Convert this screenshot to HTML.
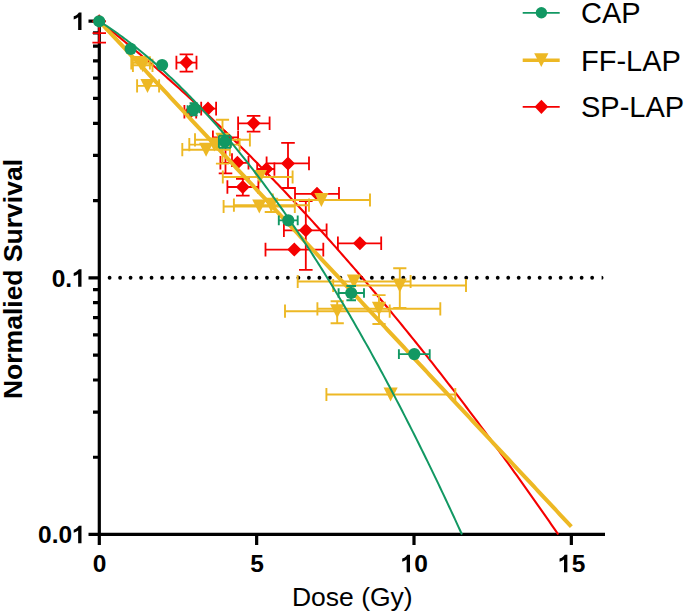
<!DOCTYPE html>
<html><head><meta charset="utf-8"><style>html,body{margin:0;padding:0;background:#fff;}svg{display:block;}</style></head>
<body>
<svg width="685" height="614" viewBox="0 0 685 614">
<rect width="685" height="614" fill="#fff"/>
<path d="M99.3 19.599999999999998 V545 M88.5 534.4 H605 M88.5 21.20 H99.3 M88.5 277.85 H99.3 M93 200.59 H99.3 M93 155.40 H99.3 M93 123.33 H99.3 M93 98.46 H99.3 M93 78.14 H99.3 M93 60.96 H99.3 M93 46.07 H99.3 M93 32.94 H99.3 M93 457.24 H99.3 M93 412.05 H99.3 M93 379.98 H99.3 M93 355.11 H99.3 M93 334.79 H99.3 M93 317.61 H99.3 M93 302.72 H99.3 M93 289.59 H99.3 M256.65 534.4 V545 M414.00 534.4 V545 M571.35 534.4 V545" fill="none" stroke="#000" stroke-width="3.2"/>
<g fill="#000"><circle cx="109.60" cy="277.75" r="1.9"/><circle cx="120.09" cy="277.75" r="1.9"/><circle cx="130.58" cy="277.75" r="1.9"/><circle cx="141.07" cy="277.75" r="1.9"/><circle cx="151.56" cy="277.75" r="1.9"/><circle cx="162.05" cy="277.75" r="1.9"/><circle cx="172.54" cy="277.75" r="1.9"/><circle cx="183.03" cy="277.75" r="1.9"/><circle cx="193.52" cy="277.75" r="1.9"/><circle cx="204.01" cy="277.75" r="1.9"/><circle cx="214.50" cy="277.75" r="1.9"/><circle cx="224.99" cy="277.75" r="1.9"/><circle cx="235.48" cy="277.75" r="1.9"/><circle cx="245.97" cy="277.75" r="1.9"/><circle cx="256.46" cy="277.75" r="1.9"/><circle cx="266.95" cy="277.75" r="1.9"/><circle cx="277.44" cy="277.75" r="1.9"/><circle cx="287.93" cy="277.75" r="1.9"/><circle cx="298.42" cy="277.75" r="1.9"/><circle cx="308.91" cy="277.75" r="1.9"/><circle cx="319.40" cy="277.75" r="1.9"/><circle cx="329.89" cy="277.75" r="1.9"/><circle cx="340.38" cy="277.75" r="1.9"/><circle cx="350.87" cy="277.75" r="1.9"/><circle cx="361.36" cy="277.75" r="1.9"/><circle cx="371.85" cy="277.75" r="1.9"/><circle cx="382.34" cy="277.75" r="1.9"/><circle cx="392.83" cy="277.75" r="1.9"/><circle cx="403.32" cy="277.75" r="1.9"/><circle cx="413.81" cy="277.75" r="1.9"/><circle cx="424.30" cy="277.75" r="1.9"/><circle cx="434.79" cy="277.75" r="1.9"/><circle cx="445.28" cy="277.75" r="1.9"/><circle cx="455.77" cy="277.75" r="1.9"/><circle cx="466.26" cy="277.75" r="1.9"/><circle cx="476.75" cy="277.75" r="1.9"/><circle cx="487.24" cy="277.75" r="1.9"/><circle cx="497.73" cy="277.75" r="1.9"/><circle cx="508.22" cy="277.75" r="1.9"/><circle cx="518.71" cy="277.75" r="1.9"/><circle cx="529.20" cy="277.75" r="1.9"/><circle cx="539.69" cy="277.75" r="1.9"/><circle cx="550.18" cy="277.75" r="1.9"/><circle cx="560.67" cy="277.75" r="1.9"/><circle cx="571.16" cy="277.75" r="1.9"/><circle cx="581.65" cy="277.75" r="1.9"/><circle cx="592.14" cy="277.75" r="1.9"/><path d="M601.6 275.85 A1.9 1.9 0 0 1 603.5 277.75 L603.5 277.75 A1.9 1.9 0 0 1 601.6 279.65 Z"/></g>
<path d="M99.2 21.3 V42.7 M92.4 21.3 H106.0 M92.4 42.7 H106.0 M176.4 62.6 H196.5 M176.4 55.8 V69.4 M196.5 55.8 V69.4 M186.4 54.3 V71.7 M179.6 54.3 H193.2 M179.6 71.7 H193.2 M184.4 111.8 H196.2 M184.4 105.0 V118.6 M196.2 105.0 V118.6 M201.2 108.6 H216.1 M201.2 101.8 V115.4 M216.1 101.8 V115.4 M238.1 123.3 H269.6 M238.1 116.5 V130.1 M269.6 116.5 V130.1 M253.6 115.9 V131.6 M246.8 115.9 H260.4 M246.8 131.6 H260.4 M220.4 162.8 H248.5 M220.4 156.0 V169.6 M248.5 156.0 V169.6 M212.9 137.3 H238.1 M212.9 130.5 V144.1 M238.1 130.5 V144.1 M225.5 137.3 V173.4 M218.7 137.3 H232.3 M218.7 173.4 H232.3 M257.2 169.0 H274.4 M257.2 162.2 V175.8 M274.4 162.2 V175.8 M227.4 187.0 H258.4 M227.4 180.2 V193.8 M258.4 180.2 V193.8 M242.8 178.9 V195.7 M236.0 178.9 H249.6 M236.0 195.7 H249.6 M266.6 163.4 H309.0 M266.6 156.6 V170.2 M309.0 156.6 V170.2 M288.0 142.9 V188.0 M281.2 142.9 H294.8 M281.2 188.0 H294.8 M295.0 193.8 H339.0 M295.0 187.0 V200.6 M339.0 187.0 V200.6 M283.9 230.3 H326.6 M283.9 223.5 V237.1 M326.6 223.5 V237.1 M305.8 201.2 V269.8 M299.0 201.2 H312.6 M299.0 269.8 H312.6 M265.5 249.6 H323.3 M265.5 242.8 V256.4 M323.3 242.8 V256.4 M337.9 243.3 H381.2 M337.9 236.5 V250.1 M381.2 236.5 V250.1 M92.5 33.2 H106 M232 153.2 V167.1" fill="none" stroke="#F50000" stroke-width="1.8"/>
<path d="M99.2 14.3 L106.2 21.3 L99.2 28.3 L92.2 21.3Z M186.4 55.6 L193.4 62.6 L186.4 69.6 L179.4 62.6Z M190.3 104.8 L197.3 111.8 L190.3 118.8 L183.3 111.8Z M208.0 101.6 L215.0 108.6 L208.0 115.6 L201.0 108.6Z M253.6 116.3 L260.6 123.3 L253.6 130.3 L246.6 123.3Z M237.4 155.8 L244.4 162.8 L237.4 169.8 L230.4 162.8Z M225.5 130.3 L232.5 137.3 L225.5 144.3 L218.5 137.3Z M266.4 162.0 L273.4 169.0 L266.4 176.0 L259.4 169.0Z M242.8 180.0 L249.8 187.0 L242.8 194.0 L235.8 187.0Z M288.0 156.4 L295.0 163.4 L288.0 170.4 L281.0 163.4Z M317.0 186.8 L324.0 193.8 L317.0 200.8 L310.0 193.8Z M305.8 223.3 L312.8 230.3 L305.8 237.3 L298.8 230.3Z M294.3 242.6 L301.3 249.6 L294.3 256.6 L287.3 249.6Z M359.9 236.3 L366.9 243.3 L359.9 250.3 L352.9 243.3Z " fill="#F50000"/>
<path d="M99.30 21.20 L101.59 23.00 L103.89 24.81 L106.18 26.63 L108.48 28.45 L110.77 30.29 L113.07 32.13 L115.36 33.98 L117.66 35.83 L119.95 37.69 L122.25 39.57 L124.54 41.44 L126.84 43.33 L129.13 45.23 L131.43 47.13 L133.72 49.04 L136.02 50.95 L138.31 52.88 L140.61 54.81 L142.90 56.75 L145.20 58.70 L147.49 60.66 L149.79 62.62 L152.08 64.59 L154.38 66.57 L156.67 68.55 L158.97 70.55 L161.26 72.55 L163.56 74.56 L165.85 76.58 L168.14 78.60 L170.44 80.63 L172.73 82.67 L175.03 84.72 L177.32 86.78 L179.62 88.84 L181.91 90.91 L184.21 92.99 L186.50 95.08 L188.80 97.17 L191.09 99.27 L193.39 101.38 L195.68 103.50 L197.98 105.62 L200.27 107.76 L202.57 109.90 L204.86 112.04 L207.16 114.20 L209.45 116.36 L211.75 118.53 L214.04 120.71 L216.34 122.90 L218.63 125.09 L220.93 127.29 L223.22 129.50 L225.52 131.72 L227.81 133.94 L230.11 136.18 L232.40 138.42 L234.69 140.66 L236.99 142.92 L239.28 145.18 L241.58 147.45 L243.87 149.73 L246.17 152.02 L248.46 154.31 L250.76 156.61 L253.05 158.92 L255.35 161.24 L257.64 163.56 L259.94 165.90 L262.23 168.24 L264.53 170.58 L266.82 172.94 L269.12 175.30 L271.41 177.67 L273.71 180.05 L276.00 182.44 L278.30 184.83 L280.59 187.23 L282.89 189.64 L285.18 192.06 L287.48 194.48 L289.77 196.91 L292.07 199.35 L294.36 201.80 L296.66 204.25 L298.95 206.72 L301.24 209.19 L303.54 211.67 L305.83 214.15 L308.13 216.65 L310.42 219.15 L312.72 221.66 L315.01 224.17 L317.31 226.70 L319.60 229.23 L321.90 231.77 L324.19 234.32 L326.49 236.87 L328.78 239.43 L331.08 242.00 L333.37 244.58 L335.67 247.17 L337.96 249.76 L340.26 252.36 L342.55 254.97 L344.85 257.59 L347.14 260.21 L349.44 262.84 L351.73 265.48 L354.03 268.13 L356.32 270.78 L358.62 273.45 L360.91 276.12 L363.21 278.79 L365.50 281.48 L367.79 284.17 L370.09 286.87 L372.38 289.58 L374.68 292.30 L376.97 295.02 L379.27 297.76 L381.56 300.49 L383.86 303.24 L386.15 306.00 L388.45 308.76 L390.74 311.53 L393.04 314.31 L395.33 317.09 L397.63 319.89 L399.92 322.69 L402.22 325.49 L404.51 328.31 L406.81 331.13 L409.10 333.97 L411.40 336.81 L413.69 339.65 L415.99 342.51 L418.28 345.37 L420.58 348.24 L422.87 351.12 L425.17 354.00 L427.46 356.90 L429.75 359.80 L432.05 362.70 L434.34 365.62 L436.64 368.54 L438.93 371.48 L441.23 374.42 L443.52 377.36 L445.82 380.32 L448.11 383.28 L450.41 386.25 L452.70 389.23 L455.00 392.21 L457.29 395.20 L459.59 398.21 L461.88 401.21 L464.18 404.23 L466.47 407.25 L468.77 410.28 L471.06 413.32 L473.36 416.37 L475.65 419.42 L477.95 422.49 L480.24 425.56 L482.54 428.63 L484.83 431.72 L487.13 434.81 L489.42 437.91 L491.72 441.02 L494.01 444.14 L496.30 447.26 L498.60 450.39 L500.89 453.53 L503.19 456.68 L505.48 459.83 L507.78 462.99 L510.07 466.16 L512.37 469.34 L514.66 472.52 L516.96 475.72 L519.25 478.92 L521.55 482.13 L523.84 485.34 L526.14 488.57 L528.43 491.80 L530.73 495.04 L533.02 498.28 L535.32 501.54 L537.61 504.80 L539.91 508.07 L542.20 511.34 L544.50 514.63 L546.79 517.92 L549.09 521.22 L551.38 524.53 L553.68 527.85 L555.97 531.17 L558.27 534.50" fill="none" stroke="#F50000" stroke-width="2.1"/>
<path d="M137.1 85.9 H159.1 M137.1 79.3 V92.5 M159.1 79.3 V92.5 M131.3 62.9 H149.9 M131.3 56.3 V69.5 M149.9 56.3 V69.5 M132.9 65.3 H152.5 M132.9 58.7 V71.9 M152.5 58.7 V71.9 M182.3 149.7 H229.9 M182.3 143.1 V156.3 M229.9 143.1 V156.3 M189.3 144.6 H239.6 M189.3 138.0 V151.2 M239.6 138.0 V151.2 M195.0 139.8 H249.9 M195.0 133.2 V146.4 M249.9 133.2 V146.4 M222.5 119.8 V163.6 M215.9 119.8 H229.1 M215.9 163.6 H229.1 M222.8 177.0 H292.6 M222.8 170.4 V183.6 M292.6 170.4 V183.6 M272.8 200.0 H370.0 M272.8 193.4 V206.6 M370.0 193.4 V206.6 M223.6 206.5 H294.8 M223.6 199.9 V213.1 M294.8 199.9 V213.1 M233.9 205.2 H309.0 M233.9 198.6 V211.8 M309.0 198.6 V211.8 M271.3 198.6 V212.0 M264.7 198.6 H277.9 M264.7 212.0 H277.9 M297.7 281.5 H410.6 M297.7 274.9 V288.1 M410.6 274.9 V288.1 M333.2 285.5 H466.0 M333.2 278.9 V292.1 M466.0 278.9 V292.1 M399.8 268.2 V308.0 M393.2 268.2 H406.4 M393.2 308.0 H406.4 M317.4 308.8 H440.3 M317.4 302.2 V315.4 M440.3 302.2 V315.4 M379.0 295.1 V324.0 M372.4 295.1 H385.6 M372.4 324.0 H385.6 M285.0 311.2 H389.7 M285.0 304.6 V317.8 M389.7 304.6 V317.8 M337.2 301.2 V323.3 M330.6 301.2 H343.8 M330.6 323.3 H343.8 M326.4 394.5 H455.3 M326.4 387.9 V401.1 M455.3 387.9 V401.1 " fill="none" stroke="#EDB824" stroke-width="1.9"/>
<path d="M140.4 78.9 H154.6 L147.5 92.9Z M133.5 55.9 H147.7 L140.6 69.9Z M135.6 58.3 H149.8 L142.7 72.3Z M199.0 142.7 H213.2 L206.1 156.7Z M207.2 137.6 H221.4 L214.3 151.6Z M215.4 132.8 H229.6 L222.5 146.8Z M252.7 170.0 H266.9 L259.8 184.0Z M314.3 193.0 H328.5 L321.4 207.0Z M252.2 199.5 H266.4 L259.3 213.5Z M264.2 198.2 H278.4 L271.3 212.2Z M346.8 274.5 H361.0 L353.9 288.5Z M392.7 278.5 H406.9 L399.8 292.5Z M371.9 301.8 H386.1 L379.0 315.8Z M330.1 304.2 H344.3 L337.2 318.2Z M383.5 387.5 H397.7 L390.6 401.5Z " fill="#EDB824"/>
<path d="M99.30 21.20 L101.66 23.73 L104.02 26.25 L106.38 28.78 L108.74 31.31 L111.10 33.84 L113.46 36.36 L115.82 38.89 L118.18 41.42 L120.54 43.95 L122.90 46.47 L125.26 49.00 L127.62 51.53 L129.98 54.06 L132.34 56.58 L134.70 59.11 L137.06 61.64 L139.42 64.17 L141.78 66.69 L144.14 69.22 L146.50 71.75 L148.87 74.27 L151.23 76.80 L153.59 79.33 L155.95 81.86 L158.31 84.38 L160.67 86.91 L163.03 89.44 L165.39 91.97 L167.75 94.49 L170.11 97.02 L172.47 99.55 L174.83 102.08 L177.19 104.60 L179.55 107.13 L181.91 109.66 L184.27 112.18 L186.63 114.71 L188.99 117.24 L191.35 119.77 L193.71 122.29 L196.07 124.82 L198.43 127.35 L200.79 129.88 L203.15 132.40 L205.51 134.93 L207.87 137.46 L210.23 139.99 L212.59 142.51 L214.95 145.04 L217.31 147.57 L219.67 150.10 L222.03 152.62 L224.39 155.15 L226.75 157.68 L229.11 160.20 L231.47 162.73 L233.83 165.26 L236.19 167.79 L238.55 170.31 L240.92 172.84 L243.28 175.37 L245.64 177.90 L248.00 180.42 L250.36 182.95 L252.72 185.48 L255.08 188.01 L257.44 190.53 L259.80 193.06 L262.16 195.59 L264.52 198.12 L266.88 200.64 L269.24 203.17 L271.60 205.70 L273.96 208.22 L276.32 210.75 L278.68 213.28 L281.04 215.81 L283.40 218.33 L285.76 220.86 L288.12 223.39 L290.48 225.92 L292.84 228.44 L295.20 230.97 L297.56 233.50 L299.92 236.03 L302.28 238.55 L304.64 241.08 L307.00 243.61 L309.36 246.14 L311.72 248.66 L314.08 251.19 L316.44 253.72 L318.80 256.24 L321.16 258.77 L323.52 261.30 L325.88 263.83 L328.24 266.35 L330.60 268.88 L332.96 271.41 L335.32 273.94 L337.69 276.46 L340.05 278.99 L342.41 281.52 L344.77 284.05 L347.13 286.57 L349.49 289.10 L351.85 291.63 L354.21 294.15 L356.57 296.68 L358.93 299.21 L361.29 301.74 L363.65 304.26 L366.01 306.79 L368.37 309.32 L370.73 311.85 L373.09 314.37 L375.45 316.90 L377.81 319.43 L380.17 321.96 L382.53 324.48 L384.89 327.01 L387.25 329.54 L389.61 332.07 L391.97 334.59 L394.33 337.12 L396.69 339.65 L399.05 342.17 L401.41 344.70 L403.77 347.23 L406.13 349.76 L408.49 352.28 L410.85 354.81 L413.21 357.34 L415.57 359.87 L417.93 362.39 L420.29 364.92 L422.65 367.45 L425.01 369.98 L427.37 372.50 L429.74 375.03 L432.10 377.56 L434.46 380.09 L436.82 382.61 L439.18 385.14 L441.54 387.67 L443.90 390.19 L446.26 392.72 L448.62 395.25 L450.98 397.78 L453.34 400.30 L455.70 402.83 L458.06 405.36 L460.42 407.89 L462.78 410.41 L465.14 412.94 L467.50 415.47 L469.86 418.00 L472.22 420.52 L474.58 423.05 L476.94 425.58 L479.30 428.11 L481.66 430.63 L484.02 433.16 L486.38 435.69 L488.74 438.21 L491.10 440.74 L493.46 443.27 L495.82 445.80 L498.18 448.32 L500.54 450.85 L502.90 453.38 L505.26 455.91 L507.62 458.43 L509.98 460.96 L512.34 463.49 L514.70 466.02 L517.06 468.54 L519.42 471.07 L521.78 473.60 L524.14 476.12 L526.51 478.65 L528.87 481.18 L531.23 483.71 L533.59 486.23 L535.95 488.76 L538.31 491.29 L540.67 493.82 L543.03 496.34 L545.39 498.87 L547.75 501.40 L550.11 503.93 L552.47 506.45 L554.83 508.98 L557.19 511.51 L559.55 514.04 L561.91 516.56 L564.27 519.09 L566.63 521.62 L568.99 524.14 L571.35 526.67" fill="none" stroke="#EDB824" stroke-width="4"/>
<path d="M187.6 109.3 H199.6 M187.6 105.3 V113.3 M199.6 105.3 V113.3 M193.6 103.3 V115.3 M189.6 103.3 H197.6 M189.6 115.3 H197.6 M218.9 141.7 H230.9 M218.9 135.7 V147.7 M230.9 135.7 V147.7 M224.9 135.7 V147.7 M218.9 135.7 H230.9 M218.9 147.7 H230.9 M278.8 220.4 H297.7 M278.8 215.6 V225.2 M297.7 215.6 V225.2 M338.6 293.0 H364.0 M338.6 288.2 V297.8 M364.0 288.2 V297.8 M351.2 286.0 V300.2 M346.4 286.0 H356.0 M346.4 300.2 H356.0 M398.9 354.1 H429.7 M398.9 349.3 V358.9 M429.7 349.3 V358.9 " fill="none" stroke="#129863" stroke-width="1.9"/>
<g fill="#129863"><circle cx="99.2" cy="21.3" r="6.1"/><circle cx="130.6" cy="48.9" r="6.1"/><circle cx="162.1" cy="65.0" r="6.1"/><circle cx="193.6" cy="109.3" r="6.1"/><circle cx="224.9" cy="141.7" r="6.1"/><circle cx="288.3" cy="220.4" r="6.1"/><circle cx="351.2" cy="293.0" r="6.1"/><circle cx="414.3" cy="354.1" r="6.1"/></g>
<path d="M99.30 21.20 L101.11 22.36 L102.93 23.53 L104.74 24.72 L106.55 25.92 L108.37 27.14 L110.18 28.37 L111.99 29.61 L113.81 30.87 L115.62 32.14 L117.43 33.43 L119.25 34.73 L121.06 36.04 L122.87 37.37 L124.69 38.71 L126.50 40.07 L128.31 41.44 L130.13 42.83 L131.94 44.23 L133.75 45.64 L135.57 47.07 L137.38 48.51 L139.19 49.97 L141.01 51.44 L142.82 52.92 L144.63 54.42 L146.45 55.93 L148.26 57.46 L150.07 59.00 L151.89 60.56 L153.70 62.13 L155.51 63.71 L157.33 65.31 L159.14 66.92 L160.95 68.54 L162.77 70.18 L164.58 71.84 L166.39 73.51 L168.21 75.19 L170.02 76.89 L171.83 78.60 L173.65 80.32 L175.46 82.06 L177.27 83.81 L179.09 85.58 L180.90 87.36 L182.71 89.16 L184.53 90.97 L186.34 92.79 L188.15 94.63 L189.97 96.48 L191.78 98.35 L193.59 100.23 L195.41 102.12 L197.22 104.03 L199.03 105.95 L200.85 107.89 L202.66 109.84 L204.47 111.81 L206.29 113.79 L208.10 115.78 L209.91 117.79 L211.73 119.81 L213.54 121.85 L215.35 123.90 L217.17 125.96 L218.98 128.04 L220.79 130.13 L222.61 132.24 L224.42 134.36 L226.23 136.50 L228.05 138.64 L229.86 140.81 L231.67 142.99 L233.49 145.18 L235.30 147.38 L237.11 149.60 L238.93 151.84 L240.74 154.09 L242.55 156.35 L244.37 158.62 L246.18 160.91 L247.99 163.22 L249.80 165.54 L251.62 167.87 L253.43 170.22 L255.24 172.58 L257.06 174.96 L258.87 177.35 L260.68 179.75 L262.50 182.17 L264.31 184.60 L266.12 187.05 L267.94 189.51 L269.75 191.98 L271.56 194.47 L273.38 196.97 L275.19 199.49 L277.00 202.02 L278.82 204.57 L280.63 207.13 L282.44 209.70 L284.26 212.29 L286.07 214.89 L287.88 217.50 L289.70 220.13 L291.51 222.78 L293.32 225.44 L295.14 228.11 L296.95 230.80 L298.76 233.50 L300.58 236.21 L302.39 238.94 L304.20 241.69 L306.02 244.44 L307.83 247.21 L309.64 250.00 L311.46 252.80 L313.27 255.61 L315.08 258.44 L316.90 261.28 L318.71 264.14 L320.52 267.01 L322.34 269.90 L324.15 272.80 L325.96 275.71 L327.78 278.64 L329.59 281.58 L331.40 284.53 L333.22 287.50 L335.03 290.49 L336.84 293.48 L338.66 296.50 L340.47 299.52 L342.28 302.56 L344.10 305.62 L345.91 308.69 L347.72 311.77 L349.54 314.86 L351.35 317.98 L353.16 321.10 L354.98 324.24 L356.79 327.39 L358.60 330.56 L360.42 333.74 L362.23 336.94 L364.04 340.15 L365.86 343.37 L367.67 346.61 L369.48 349.86 L371.30 353.13 L373.11 356.41 L374.92 359.71 L376.74 363.02 L378.55 366.34 L380.36 369.68 L382.18 373.03 L383.99 376.39 L385.80 379.77 L387.62 383.17 L389.43 386.58 L391.24 390.00 L393.06 393.43 L394.87 396.89 L396.68 400.35 L398.50 403.83 L400.31 407.32 L402.12 410.83 L403.94 414.35 L405.75 417.89 L407.56 421.44 L409.38 425.00 L411.19 428.58 L413.00 432.17 L414.82 435.78 L416.63 439.40 L418.44 443.03 L420.26 446.68 L422.07 450.34 L423.88 454.02 L425.70 457.71 L427.51 461.41 L429.32 465.13 L431.14 468.87 L432.95 472.61 L434.76 476.38 L436.58 480.15 L438.39 483.94 L440.20 487.75 L442.02 491.56 L443.83 495.40 L445.64 499.24 L447.46 503.10 L449.27 506.98 L451.08 510.87 L452.90 514.77 L454.71 518.69 L456.52 522.62 L458.34 526.57 L460.15 530.53 L461.96 534.50" fill="none" stroke="#129863" stroke-width="2"/>
<g font-family="Liberation Sans, sans-serif" font-weight="bold" font-size="24.5" fill="#000">
<path transform="translate(72.17,30.05) scale(0.01196,-0.01196)" d="M780 0 L500 0 L500 1064 Q360 940 128 886 L128 1146 Q330 1230 440 1330 Q520 1400 566 1466 L780 1466 Z"/>
<text x="51.73" y="286.70">0</text><text x="65.35" y="286.70">.</text><path transform="translate(72.17,286.70) scale(0.01196,-0.01196)" d="M780 0 L500 0 L500 1064 Q360 940 128 886 L128 1146 Q330 1230 440 1330 Q520 1400 566 1466 L780 1466 Z"/>
<text x="38.11" y="543.35">0</text><text x="51.73" y="543.35">.</text><text x="58.54" y="543.35">0</text><path transform="translate(72.17,543.35) scale(0.01196,-0.01196)" d="M780 0 L500 0 L500 1064 Q360 940 128 886 L128 1146 Q330 1230 440 1330 Q520 1400 566 1466 L780 1466 Z"/>
<text x="92.79" y="572.30">0</text>
<text x="250.14" y="572.30">5</text>
<path transform="translate(400.68,572.30) scale(0.01196,-0.01196)" d="M780 0 L500 0 L500 1064 Q360 940 128 886 L128 1146 Q330 1230 440 1330 Q520 1400 566 1466 L780 1466 Z"/><text x="414.30" y="572.30">0</text>
<path transform="translate(558.03,572.30) scale(0.01196,-0.01196)" d="M780 0 L500 0 L500 1064 Q360 940 128 886 L128 1146 Q330 1230 440 1330 Q520 1400 566 1466 L780 1466 Z"/><text x="571.65" y="572.30">5</text>
</g>
<text font-family="Liberation Sans, sans-serif" font-weight="bold" font-size="26.5" transform="translate(21.5,279) rotate(-90)" text-anchor="middle">Normalied Survival</text>
<g font-family="Liberation Sans, sans-serif" font-size="26.5" fill="#000">
<text x="352.3" y="605.7" text-anchor="middle">Dose (Gy)</text>
</g>
<g font-family="Liberation Sans, sans-serif" font-size="29" fill="#000">
<text x="581" y="23.3">CAP</text>
<text x="581" y="70.5">FF-LAP</text>
<text x="581" y="116.8">SP-LAP</text>
</g>
<path d="M522.7 12.9 H559.7" stroke="#129863" stroke-width="1.8"/><circle cx="541.4" cy="12.7" r="5.7" fill="#129863"/>
<path d="M522.7 60.2 H559.7" stroke="#EDB824" stroke-width="3.4"/><path d="M534.2 53.2 H548.4 L541.3 67.1 Z" fill="#EDB824"/>
<path d="M522.7 106.9 H559.7" stroke="#F50000" stroke-width="1.8"/><path d="M541.4 99.8 L548.2 106.8 L541.4 113.9 L534.6 106.8 Z" fill="#F50000"/>
</svg>
</body></html>
